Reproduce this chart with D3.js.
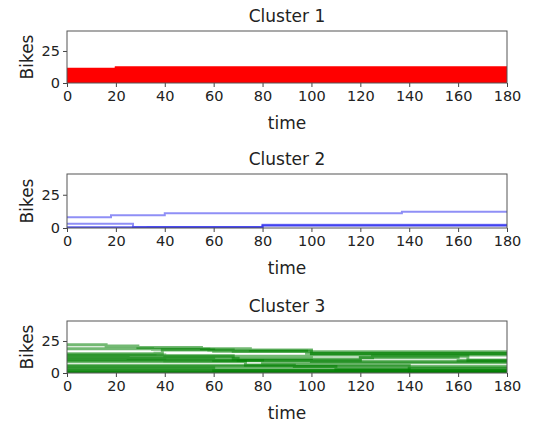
<!DOCTYPE html>
<html>
<head>
<meta charset="utf-8">
<script src="https://cdn.jsdelivr.net/npm/d3@7"></script>
<style>
  body { margin: 0; background: #fff; }
  text { font-family: "DejaVu Sans", sans-serif; fill: #222; }
</style>
</head>
<body>
<div id="chart"></div>
<script>
// x ticks shared by all panels
var timeTicks = [0, 20, 40, 60, 80, 100, 120, 140, 160, 180];
var bikeTicks = [0, 25];
var titles = ["Cluster 1", "Cluster 2", "Cluster 3"];

// each series: change points [time, bikes], drawn as steps
var cluster1 = [
  [[0, 0], [180, 0]],
  [[0, 1], [180, 1]],
  [[0, 2], [180, 2]],
  [[0, 3], [180, 3]],
  [[0, 4], [180, 4]],
  [[0, 5], [180, 5]],
  [[0, 6], [180, 6]],
  [[0, 7], [180, 7]],
  [[0, 8], [180, 8]],
  [[0, 9], [180, 9]],
  [[0, 10], [180, 10]],
  [[0, 10.5], [20, 11.5], [180, 11.5]],
  [[0, 11], [20, 12.2], [180, 12.2]]
];

var cluster2 = [
  [[0, 8], [18, 9.5], [40, 11], [137, 12.2], [180, 12.2]],
  [[0, 3.2], [27, 0.8], [80, 2.5], [180, 2.5]],
  [[0, 0.6], [80, 2], [180, 2]],
  [[0, 0.3], [33, 0.6], [80, 1.6], [180, 1.6]]
];

var cluster3 = [
  [[0, 22], [16, 21], [29, 20], [55, 19], [75, 18], [100, 16.5], [180, 16.5]],
  [[0, 19], [35, 18.5], [58, 18], [68, 17], [98, 15.5], [180, 15.5]],
  [[0, 15], [36, 15.5], [39, 18], [60, 17], [100, 15], [180, 15]],
  [[0, 14], [40, 13.5], [68, 13], [100, 14], [180, 14]],
  [[0, 13], [68, 11], [120, 12], [125, 13], [164, 10], [180, 10]],
  [[0, 12], [25, 11.5], [70, 10], [120, 12], [160, 10], [180, 10]],
  [[0, 11], [60, 10], [100, 9], [180, 9]],
  [[0, 10], [40, 9.5], [80, 8], [151, 8], [180, 8]],
  [[0, 9], [73, 6], [140, 5], [180, 5]],
  [[0, 6], [75, 6], [93, 5], [140, 4], [180, 4]],
  [[0, 5], [110, 3], [146, 3], [180, 3]],
  [[0, 4], [60, 2], [180, 2]],
  [[0, 3], [140, 1], [180, 1]],
  [[0, 2], [180, 2]],
  [[0, 1], [180, 1]],
  [[0, 0.5], [180, 0.5]],
  [[0, 0], [180, 0]]
];

var width = 538, height = 424;
var left = 67, right = 507;
var panels = [
  { top: 31, bottom: 83, data: cluster1, color: "#ff0000", opacity: 1, lw: 2.2 },
  { top: 174, bottom: 228, data: cluster2, color: "#2020ee", opacity: 0.5, lw: 2 },
  { top: 321, bottom: 373, data: cluster3, color: "#008000", opacity: 0.55, lw: 3 }
];

var svg = d3.select("#chart").append("svg")
  .attr("width", width)
  .attr("height", height);

var x = d3.scaleLinear().domain([0, 180]).range([left, right]);

panels.forEach(function(p, i) {
  var y = d3.scaleLinear().domain([0, 40.6]).range([p.bottom, p.top]);
  var g = svg.append("g");

  g.append("clipPath").attr("id", "clip" + i)
    .append("rect")
    .attr("x", left).attr("y", p.top)
    .attr("width", right - left).attr("height", p.bottom - p.top);

  var line = d3.line()
    .x(function(d) { return x(d[0]); })
    .y(function(d) { return y(d[1]); })
    .curve(d3.curveStepAfter);

  g.append("g").attr("clip-path", "url(#clip" + i + ")")
    .selectAll("path")
    .data(p.data)
    .enter().append("path")
    .attr("d", line)
    .attr("fill", "none")
    .attr("stroke", p.color)
    .attr("stroke-opacity", p.opacity)
    .attr("stroke-width", p.lw);

  var xAxis = g.append("g")
    .attr("transform", "translate(0," + p.bottom + ")")
    .call(d3.axisBottom(x).tickValues(timeTicks).tickSize(4).tickPadding(4));
  var yAxis = g.append("g")
    .attr("transform", "translate(" + left + ",0)")
    .call(d3.axisLeft(y).tickValues(bikeTicks).tickSize(4).tickPadding(3));

  [xAxis, yAxis].forEach(function(a) {
    a.select(".domain").remove();
    a.selectAll("line").attr("stroke", "#444");
    a.selectAll("text").style("font-size", "14.5px").attr("fill", "#222");
  });

  g.append("rect")
    .attr("x", left).attr("y", p.top)
    .attr("width", right - left).attr("height", p.bottom - p.top)
    .attr("fill", "none")
    .attr("stroke", "#555")
    .attr("stroke-width", 1);

  g.append("text")
    .attr("x", (left + right) / 2).attr("y", p.top - 9)
    .attr("text-anchor", "middle")
    .style("font-size", "17px")
    .text(titles[i]);

  g.append("text")
    .attr("x", (left + right) / 2).attr("y", p.bottom + 46)
    .attr("text-anchor", "middle")
    .style("font-size", "17px")
    .text("time");

  g.append("text")
    .attr("transform", "translate(33," + ((p.top + p.bottom) / 2) + ") rotate(-90)")
    .attr("text-anchor", "middle")
    .style("font-size", "17px")
    .text("Bikes");
});
</script>
</body>
</html>
